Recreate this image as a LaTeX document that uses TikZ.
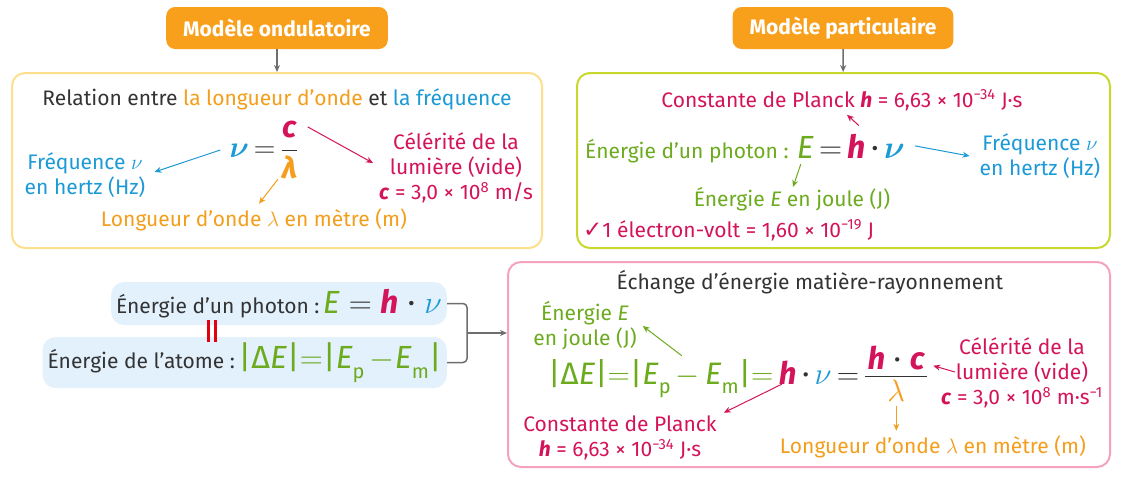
\RequirePackage{fix-cm}
\documentclass[tikz,border=0pt]{standalone}
\usepackage{amsmath}
\usepackage{fontspec}
\setmainfont{Fira Sans}
\newfontfamily\checkfont{DejaVu Sans}
\usetikzlibrary{arrows.meta, positioning, calc}

\definecolor{orangeM}{HTML}{F8A01B}
\definecolor{orangeT}{HTML}{F49E1C}
\definecolor{magT}{HTML}{D4145A}
\definecolor{blueT}{HTML}{1B9AD6}
\definecolor{greenT}{HTML}{6CAA1E}
\definecolor{greyT}{HTML}{333333}
\definecolor{greyA}{HTML}{6E6E6E}
\definecolor{yellowB}{HTML}{FCE08C}
\definecolor{limeB}{HTML}{C8D92E}
\definecolor{pinkB}{HTML}{F5A3BC}
\definecolor{blueF}{HTML}{E3F1FC}
\definecolor{rougeT}{HTML}{E3000F}

\newcommand{\symH}{\textcolor{magT}{\textbf{\textit{h}}}}
\newcommand{\symC}{\textcolor{magT}{\textbf{\textit{c}}}}
\newcommand{\symNu}{\textcolor{blueT}{$\nu$}}
\newcommand{\symNuB}{\textcolor{blueT}{$\boldsymbol{\nu}$}}
\newcommand{\symLam}{\textcolor{orangeT}{$\lambda$}}
\newcommand{\symLamB}{\textcolor{orangeT}{\textbf{\textit{λ}}}}
\newcommand{\symE}{\textcolor{greenT}{\textit{E}}}
\newcommand{\egm}{$=$}
\newcommand{\indbas}[1]{\raisebox{-0.32em}{\fontsize{20}{20}\selectfont #1}}

\tikzset{
    modele/.style = {rounded corners=9pt, fill=orangeM, text=white, inner xsep=17pt, minimum height=42pt, font=\bfseries\fontsize{21}{24}\selectfont},
    cadre/.style = {rounded corners=13pt, line width=2pt, fill=white},
    bulle/.style = {rounded corners=13pt, fill=blueF, inner xsep=5pt, text=greyT, font=\fontsize{21}{24}\selectfont},
    txt/.style = {inner sep=0pt, align=center, font=\fontsize{21}{25}\selectfont},
    eq/.style = {inner sep=0pt, text=greyT, font=\fontsize{32}{34}\selectfont},
    eqg/.style = {eq, font=\fontsize{31}{33}\selectfont},
    fl/.style = {-{Stealth[length=7pt, width=6pt]}, line width=1pt},
    flg/.style = {fl, draw=greyA, line width=1.5pt}
}

\begin{document}
\begin{tikzpicture}[x=1pt, y=-1pt]
\path[use as bounding box, fill=white] (0,0) rectangle (1123,480);

% Modele ondulatoire
\node[modele] (labOnd) at (277,28) {Modèle ondulatoire};
\node[cadre, draw=yellowB, minimum width=530pt, minimum height=175pt] (boxOnd) at (277,160.5) {};
\draw[flg] (labOnd) -- (boxOnd);
\node[txt, text=greyT] (relOnd) at (277,99) {Relation entre \textcolor{orangeT}{la longueur d’onde} et \textcolor{blueT}{la fréquence}};
\node[eq, font=\fontsize{30}{32}\selectfont] (eqOnd) at (264,150) {\symNuB\,\egm\,$\dfrac{\text{\symC}}{\text{\symLamB}}$};
\node[txt, text=blueT] (freqOnd) at (85,175) {Fréquence \symNu\\en hertz (Hz)};
\node[txt, text=orangeT] (longOnd) at (254,220) {Longueur d’onde \symLam\ en mètre (m)};
\node[txt, text=magT] (celOnd) at (456,168) {Célérité de la\\lumière (vide)\\\symC\ = 3,0 × 10\textsuperscript{8} m/s};
\draw[fl, blueT] ([xshift=-9pt]eqOnd.west) -- ([xshift=9pt, yshift=3pt]freqOnd.east);
\draw[fl, orangeT] ([xshift=14pt]eqOnd.south) -- ([xshift=5pt, yshift=5pt]longOnd.north);
\draw[fl, magT] ([xshift=9pt, yshift=-6pt]eqOnd.north east) -- ([xshift=-6pt, yshift=5pt]celOnd.west);

% Modele particulaire
\node[modele] (labPart) at (843,28) {Modèle particulaire};
\node[cadre, draw=limeB, minimum width=533pt, minimum height=175pt] (boxPart) at (843.5,160.5) {};
\draw[flg] (labPart) -- (boxPart);
\node[txt, text=magT] (planckPart) at (842,100) {Constante de Planck \symH\ = 6,63 × 10\textsuperscript{−34} J·s};
\node[txt, text=greenT, anchor=base west] (photPart) at (585,158) {Énergie d’un photon :};
\node[eq, anchor=base west] (eqPart) at ([xshift=8pt]photPart.base east) {\symE\,\egm\,\symH\,·\,\symNuB};
\node[txt, text=blueT] (freqPart) at (1040,156) {Fréquence \symNu\\en hertz (Hz)};
\node[txt, text=greenT] (joulePart) at (792,199) {Énergie \textit{E} en joule (J)};
\node[txt, text=magT, anchor=west] (evPart) at (583,230) {{\checkfont\bfseries\fontsize{23}{25}\selectfont ✓}1 électron-volt = 1,60 × 10\textsuperscript{−19} J};
\draw[fl, magT] ([xshift=8pt, yshift=8pt]eqPart.north) -- ([xshift=5pt, yshift=-4pt]planckPart.south);
\draw[fl, blueT] ([xshift=10pt]eqPart.east) -- ([xshift=-10pt]freqPart.west);
\draw[fl, greenT] ([xshift=4pt, yshift=-6pt]eqPart.south west) -- ([xshift=1pt]joulePart.north);

% Photon et atome
\node[bulle, anchor=east, minimum height=43pt] (photon) at (447,303.5) {Énergie d’un photon :\,{\fontsize{32}{34}\selectfont\symE\;\egm\;\symH\;·\;\symNu}};
\node[bulle, anchor=east, minimum height=51pt] (atome) at (447,362.5) {Énergie de l’atome :\,{\fontsize{32}{34}\selectfont\color{greenT}|Δ\textit{E}|\egm|\textit{E}\indbas{p}\,$-$\textit{E}\indbas{m}|}};
\node[inner sep=0pt] (egal) at (212,331) {\color{rougeT}\rule{3pt}{22pt}\hspace{4pt}\rule{3pt}{22pt}};

% Echange matiere-rayonnement
\node[cadre, draw=pinkB, minimum width=602pt, minimum height=205pt] (boxEch) at (809,364.5) {};
\draw[greyA, line width=1.5pt, rounded corners=4pt] (photon.east) -- ++(20,0) |- (atome.east);
\coordinate (brk) at ($(photon.east)!0.5!(atome.east)+(20,0)$);
\draw[flg] (brk) -- (brk -| boxEch.west);
\node[txt, text=greyT] (titEch) at (810,282) {Échange d’énergie matière-rayonnement};
\node[txt, text=greenT] (jouleEch) at (585,326) {Énergie \textit{E}\\en joule (J)};
\node[eqg, text=greenT, anchor=base west] (eqEch) at (548,384) {|Δ\textit{E}|\egm|\textit{E}\indbas{p}\,$-$\,\textit{E}\indbas{m}|\egm};
\node[eqg, anchor=base west] (hEch) at ([xshift=5pt]eqEch.base east) {\symH};
\node[eqg, anchor=base west] (nuEch) at (hEch.base east) {\,·\,\symNu\,\egm};
\node[eqg, anchor=base west] (numEch) at ([xshift=8pt, yshift=15pt]nuEch.base east) {\symH\;·\;\symC};
\draw[greyT, line width=1.3pt] ([xshift=-2pt, yshift=-7pt]numEch.south west) -- ([xshift=2pt, yshift=-7pt]numEch.south east);
\node[eqg, anchor=north] (denEch) at ([yshift=-10pt]numEch.south) {\symLam};
\node[txt, text=magT] (planckEch) at (620,438) {Constante de Planck\\\symH\ = 6,63 × 10\textsuperscript{−34} J·s};
\node[txt, text=magT] (celEch) at (1022,373) {Célérité de la\\lumière (vide)\\\symC\ = 3,0 × 10\textsuperscript{8} m·s\textsuperscript{−1}};
\node[txt, text=orangeT] (longEch) at (933,447) {Longueur d’onde \symLam\ en mètre (m)};
\coordinate (lamEch) at (denEch.south |- longEch.north);
\draw[fl, greenT] ([xshift=21pt, yshift=3pt]eqEch.north) -- ([xshift=6pt]jouleEch.east);
\draw[fl, magT] ([xshift=-6pt]hEch.south) -- ([xshift=7pt, yshift=3pt]planckEch.north east);
\draw[fl, magT] ([xshift=14pt, yshift=1pt]celEch.west) -- ([xshift=8pt, yshift=4pt]numEch.south east);
\draw[fl, orangeT] ([yshift=-4pt]denEch.south) -- ([yshift=5pt]lamEch);
\end{tikzpicture}
\end{document}
